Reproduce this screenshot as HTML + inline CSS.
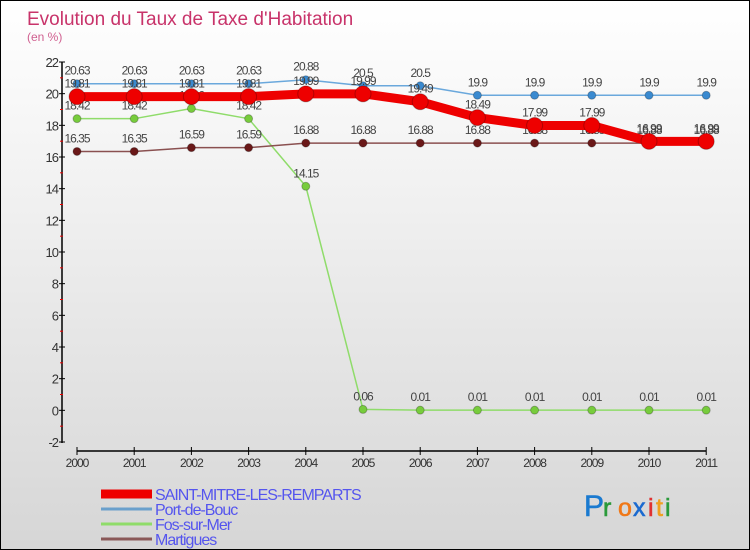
<!DOCTYPE html>
<html><head><meta charset="utf-8"><style>
body{margin:0}
#c{width:750px;height:550px;position:relative;background:linear-gradient(#ffffff,#f3f3f3 30%,#d6d6d6);box-sizing:border-box;border:1px solid #000;overflow:hidden;font-family:"Liberation Sans",sans-serif}
svg{position:absolute;left:0;top:0}
</style></head><body>
<div id="c">
<svg id="s" width="750" height="550"></svg>
</div>
<script>
const years=["2000","2001","2002","2003","2004","2005","2006","2007","2008","2009","2010","2011"];
const smr=[19.81,19.81,19.81,19.81,19.99,19.99,19.49,18.49,17.99,17.99,16.99,16.99];
const pdb=[20.63,20.63,20.63,20.63,20.88,20.5,20.5,19.9,19.9,19.9,19.9,19.9];
const fos=[18.42,18.42,19.06,18.42,14.15,0.06,0.01,0.01,0.01,0.01,0.01,0.01];
const mar=[16.35,16.35,16.59,16.59,16.88,16.88,16.88,16.88,16.88,16.88,16.88,16.88];
const yTicks=[-2,0,2,4,6,8,10,12,14,16,18,20,22];
const NS="http://www.w3.org/2000/svg",s=document.getElementById('s');
function X(i){return 76+i*57.2}
function Y(v){return 441-(v+2)*380/24}
function el(t,a,txt){const e=document.createElementNS(NS,t);for(const k in a)e.setAttribute(k,a[k]);if(txt!==undefined)e.textContent=txt;s.appendChild(e);return e}
let e;
e=el('text',{x:26,y:24,'font-size':19,fill:'#c8336a'},'Evolution du Taux de Taxe d\'Habitation');


e=el('text',{x:26,y:40,'font-size':12,fill:'#d06090'},'(en %)');


e=el('line',{x1:61,y1:61,x2:61,y2:442,stroke:'#000','stroke-width':1.5});


e=el('line',{x1:76,y1:450,x2:705,y2:450,stroke:'#000','stroke-width':1.5});


yTicks.forEach(v=>{
 e=el('line',{x1:58,y1:Y(v),x2:64,y2:Y(v),stroke:'#000'});
 
 
 if(v<22){
 e=el('line',{x1:59,y1:Y(v+1),x2:62,y2:Y(v+1),stroke:'#e00'});
 
 
 }
 e=el('text',{x:57,y:Y(v)+5,'font-size':13,fill:'#333','text-anchor':'end','letter-spacing':'-1'},String(v));
 
 
});
years.forEach((y,i)=>{
 e=el('line',{x1:X(i),y1:446,x2:X(i),y2:454,stroke:'#000'});
 
 
 e=el('text',{x:X(i),y:466,'font-size':12,fill:'#333','text-anchor':'middle','letter-spacing':'-1'},y);
 
 
});
function series(d,col,w,r,name,dot){
 e=el('polyline',{points:d.map((v,i)=>X(i)+','+Y(v)).join(' '),fill:'none',stroke:col,'stroke-width':w,'stroke-linejoin':'round'});
 
 
 d.forEach((v,i)=>{
  e=el('circle',{cx:X(i),cy:Y(v),r:r,fill:dot,stroke:'rgba(0,0,0,0.25)','stroke-width':1});
  
  
  e=el('text',{x:X(i),y:Y(v)-9,'font-size':12,fill:'#444','text-anchor':'middle','letter-spacing':'-1'},String(v));
  
  
 });
}
series(pdb,'#6aa8dc',1.5,4,'port-de-bouc','#3a8ad0');
series(fos,'#8fdc6a',1.5,4,'fos-sur-mer','#77cc3c');
series(mar,'#8a5050',1.5,4,'martigues','#6a1818');
series(smr,'#ee0000',9,8,'saint-mitre','#ee0000');
const leg=[['SAINT-MITRE-LES-REMPARTS','#ee0000',9],['Port-de-Bouc','#6aa0cc',3],['Fos-sur-Mer','#8fdc6a',3],['Martigues','#8a5858',3]];
leg.forEach((l,i)=>{
 const y=493+i*15;
 e=el('line',{x1:100,y1:y,x2:151,y2:y,stroke:l[1],'stroke-width':l[2]});
 
 
 e=el('text',{x:154,y:y+6,'font-size':16,fill:'#5555ee','letter-spacing':'-1'},l[0]);
 
 
});
const logo=[['P','#1a7ad0'],['r','#2a9a3a'],['o','#f07818'],['x','#1a6ad0'],['i','#e03030'],['t','#f0a020'],['i','#2a9a3a']];
let lx=583;
logo.forEach(p=>{
 e=el('text',{x:lx,y:515,'font-size':p[0]=='P'?30:25,fill:p[1],'stroke':p[1],'stroke-width':0.6},p[0]);
 
 
 lx+=p[0]=='P'?19:(p[0]=='i'?8:(p[0]=='t'?9:15));
});
</script>
</body></html>
